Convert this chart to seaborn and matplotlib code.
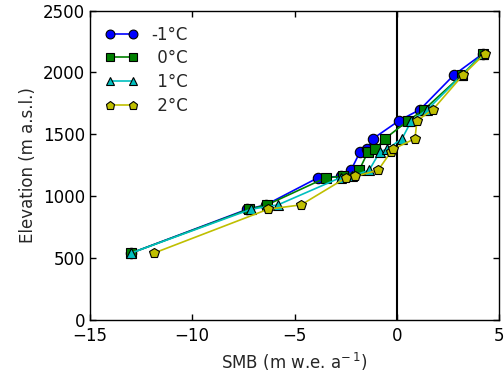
import matplotlib
matplotlib.use("Agg")
import matplotlib.pyplot as plt
import seaborn as sns
import numpy as np

# Data
elev = [540, 895, 930, 1150, 1160, 1210, 1360, 1380, 1465, 1610, 1700, 1980, 2150]
smb_m1 = [-13.0, -7.3, -6.4, -3.84, -2.72, -2.24, -1.79, -1.45, -1.16, 0.11, 1.14, 2.80, 4.20]
smb_0 = [-13.0, -7.22, -6.34, -3.46, -2.62, -1.84, -1.40, -1.06, -0.57, 0.55, 1.34, 3.19, 4.20]
smb_1 = [-13.0, -7.12, -5.81, -2.75, -2.20, -1.35, -0.82, -0.48, 0.26, 0.72, 1.50, 3.20, 4.22]
smb_2 = [-11.88, -6.29, -4.68, -2.47, -2.04, -0.91, -0.28, -0.18, 0.89, 0.99, 1.77, 3.24, 4.30]
labels = ["-1°C", " 0°C", " 1°C", " 2°C"]
series = [smb_m1, smb_0, smb_1, smb_2]
colors = ["#0000ff", "#008000", "#00bfbf", "#bfbf00"]
markers = ["o", "s", "^", "p"]

sns.set_style("ticks")
plt.rcParams["font.family"] = ["DejaVu Sans"]
plt.rcParams["font.size"] = 12
plt.rcParams["xtick.direction"] = "in"
plt.rcParams["ytick.direction"] = "in"
plt.rcParams["xtick.top"] = True
plt.rcParams["ytick.right"] = True
plt.rcParams["xtick.major.size"] = 4
plt.rcParams["ytick.major.size"] = 4

fig = plt.figure(figsize=(5.04, 3.77), dpi=100)
ax = fig.add_axes([90/504, 1-320/377, (499-90)/504, (320-10.5)/377])

for s, lab, c, m in zip(series, labels, colors, markers):
    sns.lineplot(x=s, y=elev, ax=ax, sort=False, estimator=None, color=c,
                 marker=m, markersize=7.5, markeredgecolor="k", markeredgewidth=0.8,
                 linewidth=1.2, label=lab)

ax.axvline(0, color="k", linewidth=1.5, zorder=0)
ax.set_xlim(-15, 5)
ax.set_ylim(0, 2500)
ax.set_xticks([-15, -10, -5, 0, 5])
ax.set_yticks([0, 500, 1000, 1500, 2000, 2500])
ax.tick_params(labelsize=12, width=1, colors="k")
ax.tick_params(axis="x", pad=5)
for sp in ax.spines.values():
    sp.set_linewidth(1.0)
    sp.set_color("k")
ax.set_xlabel("SMB (m w.e. a$^{-\\,1}$)", fontsize=12)
ax.set_ylabel("Elevation (m a.s.l.)", fontsize=12)
ax.legend(loc="upper left", frameon=False, numpoints=2, fontsize=12,
          handlelength=2.0, borderaxespad=0.5, labelspacing=0.35, markerscale=0.85)

fig.savefig("out.png", dpi=100)
